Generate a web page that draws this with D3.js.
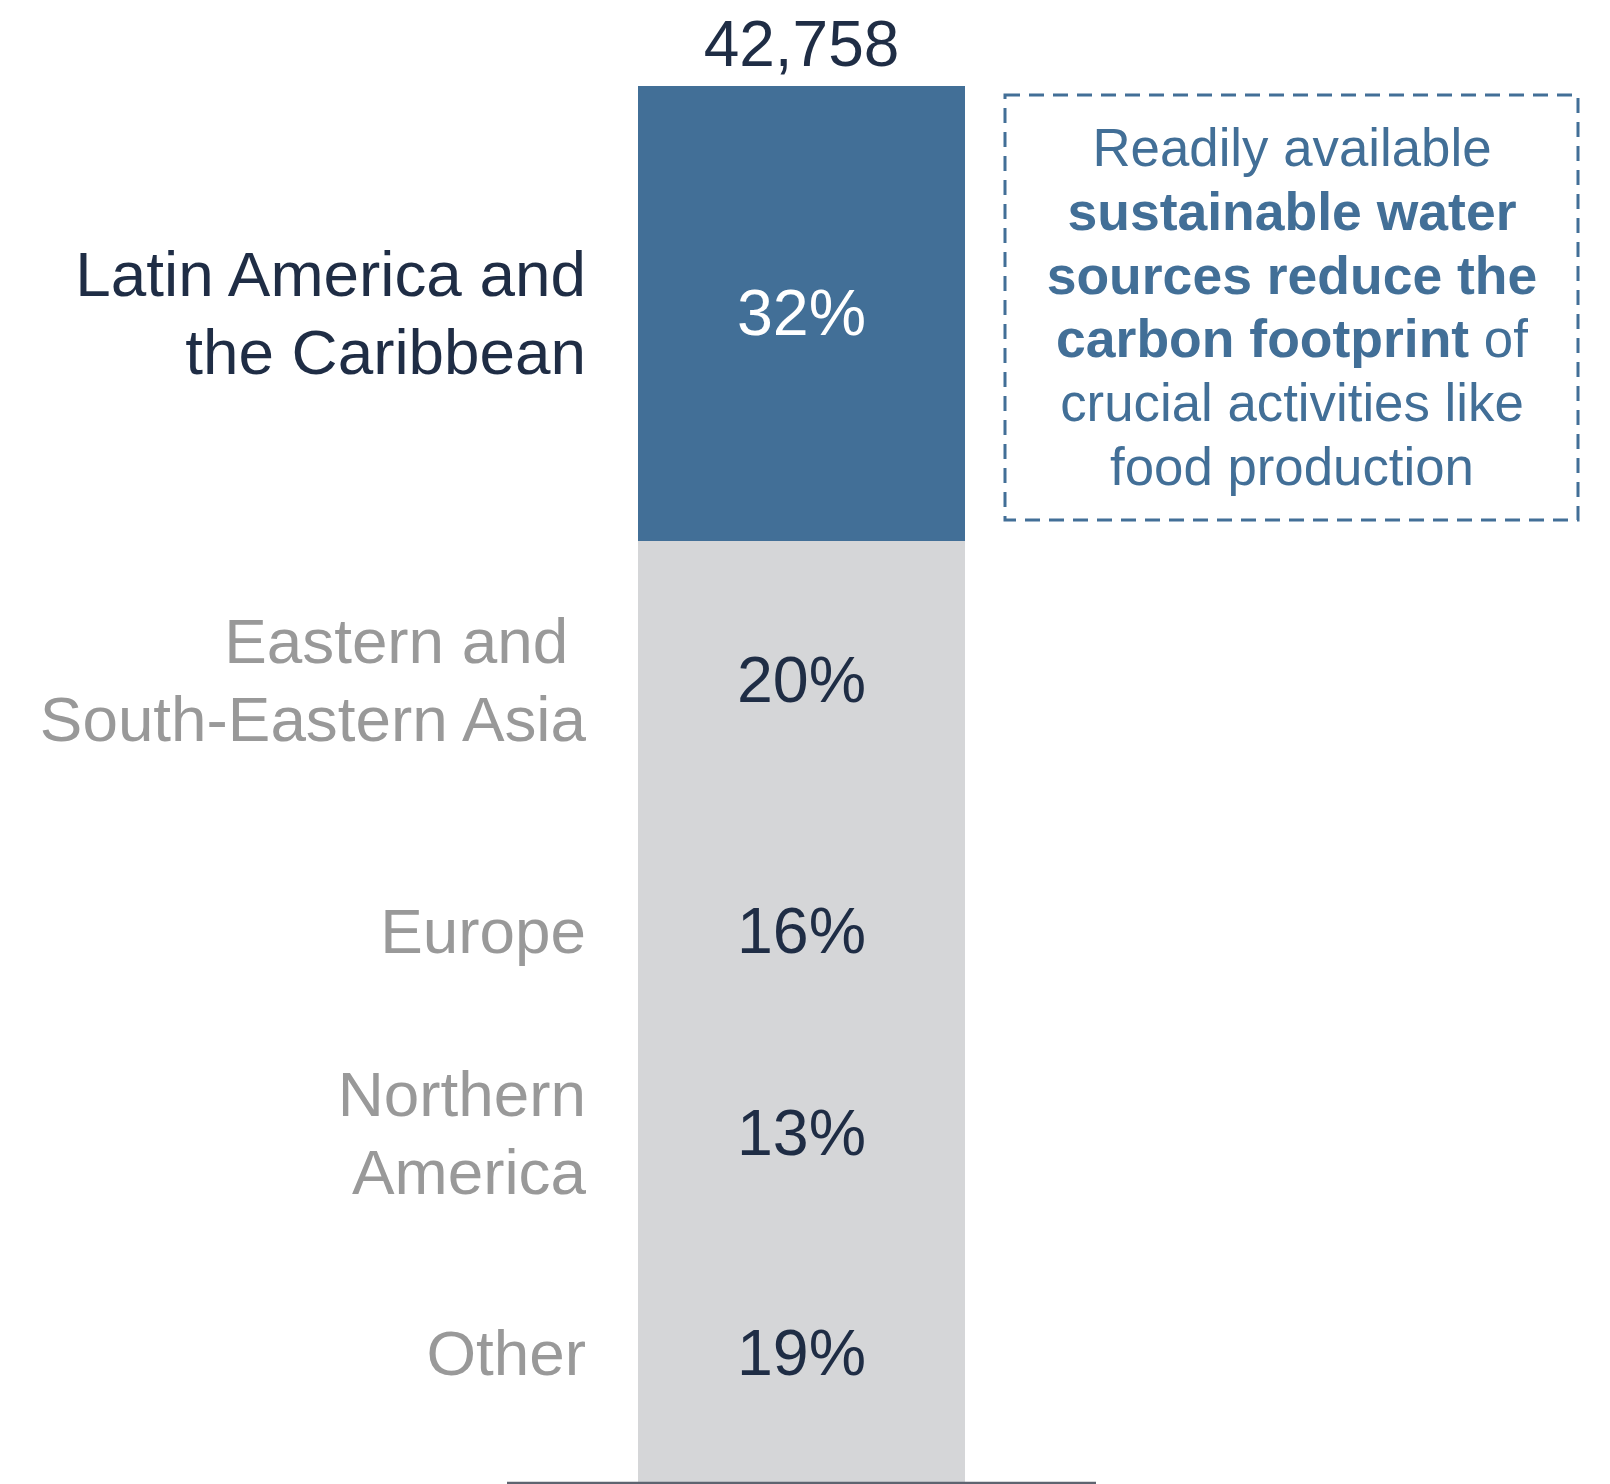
<!DOCTYPE html>
<html><head><meta charset="utf-8">
<script src="https://cdn.jsdelivr.net/npm/d3@7"></script>
<style>
html,body{margin:0;padding:0;background:#fff;}
svg{display:block;font-family:"Liberation Sans",Arial,Helvetica,sans-serif;}
</style></head>
<body>
<svg id="chart" width="1610" height="1484"></svg>
<script>
// ---- data ----
const regions = [["Latin America and","the Caribbean"],["Eastern and ","South-Eastern Asia"],["Europe"],["Northern","America"],["Other"]];
const shares = [32.5, 20, 16, 13, 18.5];
const shareLabels = ["32%","20%","16%","13%","19%"];
const highlighted = [true,false,false,false,false];
const totalLabel = "42,758";
const noteLines = [
  [["Readily available", false]],
  [["sustainable water", true]],
  [["sources reduce the", true]],
  [["carbon footprint", true],[" of", false]],
  [["crucial activities like", false]],
  [["food production", false]]
];

// ---- drawing ----
const svg = d3.select("#chart");
const blue = "#426f97", grey = "#d5d6d8", dark = "#1f2d45", labelGrey = "#999999";
const total = d3.sum(shares);
const y = d3.scaleLinear().domain([0,total]).range([86,1482]).interpolate(d3.interpolateRound);
const x = d3.scaleBand().domain(["bar"]).range([638,965]).padding(0);

let cum = 0;
const segs = shares.map((v,i)=>{const s={i, y0:cum, y1:cum+v}; cum+=v; return s;});

svg.selectAll("rect.seg").data(segs).join("rect")
  .attr("class","seg")
  .attr("shape-rendering","crispEdges")
  .attr("x", x("bar")).attr("width", x.bandwidth())
  .attr("y", d=>y(d.y0)).attr("height", d=>y(d.y1)-y(d.y0)+(d.i<segs.length-1?1:0))
  .attr("fill", d=>highlighted[d.i]?blue:grey);
// redraw highlighted on top so overlap doesn't change its edge
svg.selectAll("rect.seg").filter(d=>highlighted[d.i]).raise();

const cx = x("bar")+x.bandwidth()/2;
const capHalf = 22;
svg.selectAll("text.pct").data(segs).join("text")
  .attr("class","pct")
  .attr("x", cx).attr("y", d=>(y(d.y0)+y(d.y1))/2 + capHalf)
  .attr("text-anchor","middle").attr("font-size",64.5)
  .attr("fill", d=>highlighted[d.i]?"#ffffff":dark)
  .text(d=>shareLabels[d.i]);

const lh = 78;
const lab = svg.selectAll("text.reg").data(segs).join("text")
  .attr("class","reg")
  .attr("text-anchor","end").attr("font-size",63.8)
  .attr("fill", d=>highlighted[d.i]?dark:labelGrey)
  .style("white-space","pre");
lab.each(function(d){
  const lines = regions[d.i];
  const mid = (y(d.y0)+y(d.y1))/2;
  const first = mid - (lines.length-1)*lh/2 + capHalf;
  d3.select(this).selectAll("tspan").data(lines).join("tspan")
    .attr("x", 586).attr("y", (l,k)=>first + k*lh)
    .text(l=>l);
});

svg.append("text").attr("x", cx).attr("y", 66).attr("text-anchor","middle")
  .attr("font-size",64).attr("fill",dark).text(totalLabel);

svg.append("line").attr("x1",507).attr("x2",1096).attr("y1",1483).attr("y2",1483)
  .attr("stroke","#5e6470").attr("stroke-width",2.5);

// annotation
svg.append("rect").attr("x",1005).attr("y",95).attr("width",573).attr("height",425)
  .attr("fill","none").attr("stroke",blue).attr("stroke-width",3)
  .attr("stroke-dasharray","15,9");
const note = svg.append("text").attr("text-anchor","middle")
  .attr("fill",blue).style("white-space","pre");
noteLines.forEach((parts,k)=>{
  parts.forEach((p,j)=>{
    const t = note.append("tspan").text(p[0])
      .attr("font-weight",p[1]?"bold":"normal")
      .attr("font-size",p[1]?53.5:52.8);
    if(j===0) t.attr("x",1292).attr("y",166 + k*63.8);
  });
});
</script>
</body></html>
